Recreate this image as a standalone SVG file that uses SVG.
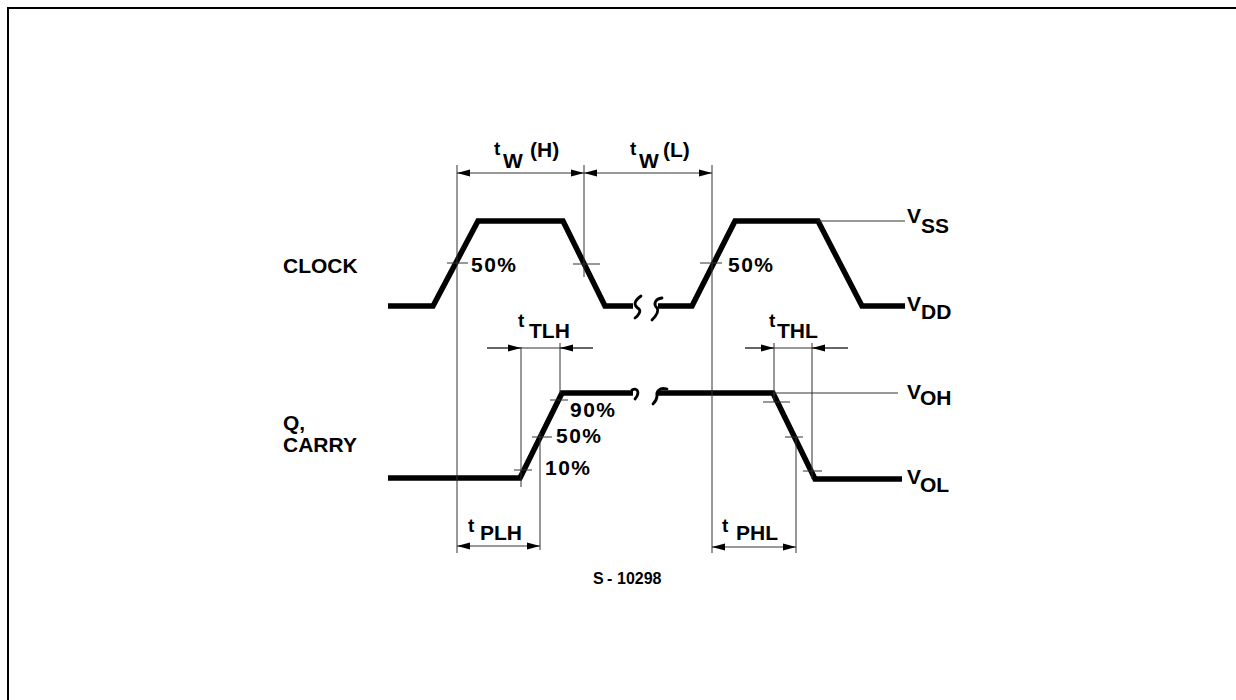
<svg xmlns="http://www.w3.org/2000/svg" width="1236" height="700" viewBox="0 0 1236 700">
<defs>
<style>
.wave{fill:none;stroke:#000;stroke-width:5.5;stroke-linejoin:miter;stroke-linecap:butt}
.thin{fill:none;stroke:#333;stroke-width:1}
.brk{fill:none;stroke:#000;stroke-width:2.8;stroke-linecap:round}
.lbl{font-family:"Liberation Sans",Arial,sans-serif;font-weight:bold;font-size:21px;fill:#000}
.pct{letter-spacing:1.5px}
.tt{font-size:19px}
.note{font-family:"Liberation Sans",Arial,sans-serif;font-weight:bold;font-size:16px;fill:#000}
</style>
<marker id="ah" markerUnits="userSpaceOnUse" markerWidth="14" markerHeight="10" refX="13" refY="5" orient="auto-start-reverse">
<path d="M0,1.5 L13,5 L0,8.5 Z" fill="#000"/>
</marker>
</defs>
<rect width="1236" height="700" fill="#fff"/>
<path d="M8,700 L8,8 L1236,8" fill="none" stroke="#000" stroke-width="2"/>

<g id="clock">
<path class="wave" d="M388,306 L433,306 L478,221 L563,221 L605,306 L633,306"/>
<path class="brk" d="M641,296 C634,301 633,305 639,309 C641,311 639,315 635,318"/>
<path class="brk" d="M662,298 C655,299 653,304 657,308 C659,311 656,316 652,320"/>
<path class="wave" d="M658,306 L692,306 L735,221 L818,221 L862,306 L905,306"/>
<path class="thin" d="M818,221 L905,221"/>
</g>

<g id="q-carry">
<path class="wave" d="M388,478 L520,478 L562,393 L633,393"/>
<path class="brk" d="M632,390 C638,387 640,393 635,399"/>
<path class="brk" d="M667,389 C659,387 656,392 657,396 C657,399 655,402 653,404"/>
<path class="wave" d="M658,393 L773,393 L815,479 L902,479"/>
<path class="thin" d="M773,393 L898,393"/>
</g>

<g id="connectors">
<path class="thin" d="M457,165 L457,553"/>
<path class="thin" d="M584,165 L584,277"/>
<path class="thin" d="M712,165 L712,553"/>
<path class="thin" d="M447,263 L468,263 M700,263 L722,263"/>
<path class="thin" d="M573,264 L600,264" stroke-width="1.5"/>
<path class="thin" d="M521,347 L521,487 M560,343 L560,393 M540,433 L540,550"/>
<path class="thin" d="M550,400 L568,400 M532,437 L552,437 M514,470 L532,470"/>
<path class="thin" d="M774,343 L774,402 M812,343 L812,479 M796,437 L796,553"/>
<path class="thin" d="M763,402 L790,402 M785,437 L803,437 M803,471 L822,471"/>
<path class="thin" d="M457,173 L584,173" marker-start="url(#ah)" marker-end="url(#ah)"/>
<path class="thin" d="M584,173 L712,173" marker-start="url(#ah)" marker-end="url(#ah)"/>
<path class="thin" d="M487,348 L593,348"/>
<path class="thin" d="M487,348 L521,348" marker-end="url(#ah)"/>
<path class="thin" d="M593,348 L560,348" marker-end="url(#ah)"/>
<path class="thin" d="M745,348 L848,348"/>
<path class="thin" d="M745,348 L774,348" marker-end="url(#ah)"/>
<path class="thin" d="M848,348 L812,348" marker-end="url(#ah)"/>
<path class="thin" d="M457,546 L540,546" marker-start="url(#ah)" marker-end="url(#ah)"/>
<path class="thin" d="M712,547 L796,547" marker-start="url(#ah)" marker-end="url(#ah)"/>
</g>

<g id="labels">
<text class="lbl" x="283" y="273">CLOCK</text>
<text class="lbl" x="283" y="430">Q,</text>
<text class="lbl" x="283" y="452">CARRY</text>
<text class="lbl tt" x="494" y="155">t</text><text class="lbl" x="503" y="168">W</text><text class="lbl" x="530" y="157">(H)</text>
<text class="lbl tt" x="630" y="155">t</text><text class="lbl" x="639" y="168">W</text><text class="lbl" x="663" y="157">(L)</text>
<text class="lbl pct" x="471" y="272">50%</text>
<text class="lbl pct" x="728" y="272">50%</text>
<text class="lbl tt" x="518" y="327">t</text><text class="lbl" x="529" y="338">TLH</text>
<text class="lbl tt" x="769" y="327">t</text><text class="lbl" x="777" y="338">THL</text>
<text class="lbl pct" x="570" y="417">90%</text>
<text class="lbl pct" x="556" y="443">50%</text>
<text class="lbl pct" x="545" y="475">10%</text>
<text class="lbl tt" x="468" y="532">t</text><text class="lbl" x="480" y="540">PLH</text>
<text class="lbl tt" x="722" y="532">t</text><text class="lbl" x="736" y="540">PHL</text>
<text class="lbl" x="907" y="223">V</text><text class="lbl" x="921" y="233">SS</text>
<text class="lbl" x="907" y="311">V</text><text class="lbl" x="921" y="319">DD</text>
<text class="lbl" x="907" y="399">V</text><text class="lbl" x="920" y="405">OH</text>
<text class="lbl" x="907" y="484">V</text><text class="lbl" x="920" y="492">OL</text>
<text class="note" x="593" y="584">S</text><text class="note" x="607" y="584">-</text><text class="note" x="617" y="584">10298</text>
</g>
</svg>
